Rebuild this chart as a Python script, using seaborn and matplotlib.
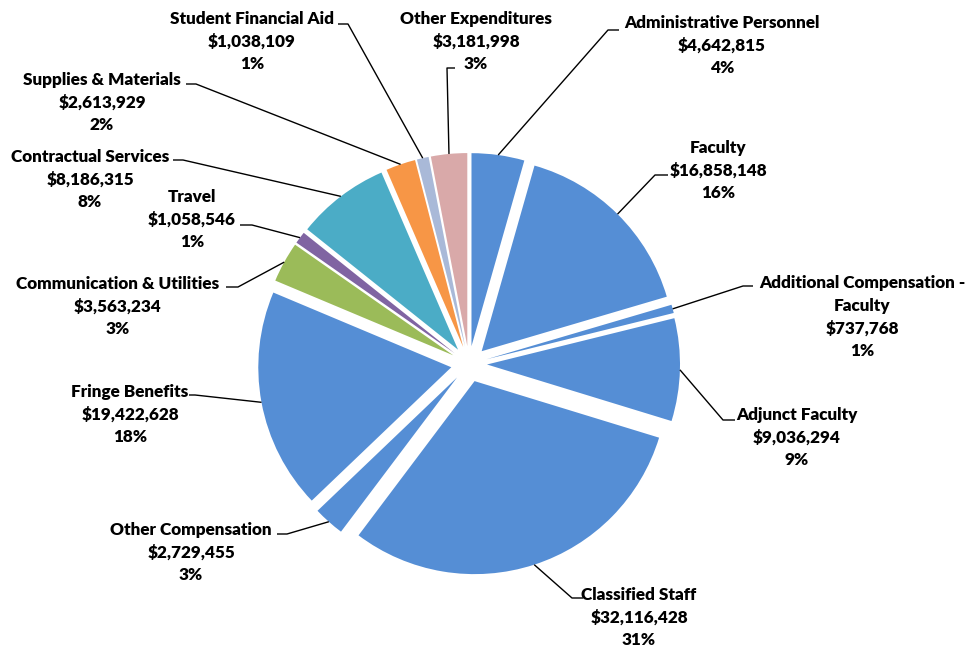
import numpy as np
import matplotlib
matplotlib.use("Agg")
import matplotlib.pyplot as plt
import seaborn as sns

categories = ["Administrative Personnel", "Faculty", "Additional Compensation -\nFaculty",
              "Adjunct Faculty", "Classified Staff", "Other Compensation", "Fringe Benefits",
              "Communication & Utilities", "Travel", "Contractual Services",
              "Supplies & Materials", "Student Financial Aid", "Other Expenditures"]
values = [4642815, 16858148, 737768, 9036294, 32116428, 2729455, 19422628,
          3563234, 1058546, 8186315, 2613929, 1038109, 3181998]
colors = ["#558ED5", "#558ED5", "#558ED5", "#558ED5", "#558ED5", "#558ED5", "#558ED5",
          "#9BBB59", "#8064A2", "#4BACC6", "#F79646", "#A9B9D8", "#D9A9A9"]

# label layout (image pixel coords): text center x, first-line y, knee point, segment end
label_xy = [(722, 22), (718, 147), (862, 282), (797, 414), (639, 594), (191, 529), (130, 391),
            (118, 283), (192, 196), (90, 156), (102, 79), (252, 18), (476, 18)]
knee_xy = [(608, 30), (655, 175), (743, 286), (723, 420), (572, 598), (287, 534), (195, 395),
           (238, 287), (252, 225), (183, 160), (196, 84), (348, 24), (447, 68)]
end_xy = [(619, 30), (668, 175), (753, 286), (735, 420), (583, 598), (277, 534), (189, 395),
          (226, 287), (240, 225), (173, 160), (186, 84), (338, 24), (455, 68)]

W, H = 968, 647
sns.set_theme(style="white")
plt.rcParams['font.family'] = ['Lato', 'DejaVu Sans']

fig = plt.figure(figsize=(W / 100, H / 100), dpi=100)
ax = fig.add_axes([0, 0, 1, 1])

R = 193
explode = [18] * len(values)   # pie explode offsets are in data units
wedges, _ = ax.pie(values, colors=colors, startangle=90, counterclock=False,
                   explode=explode, radius=R, center=(469, H - 364), frame=True,
                   wedgeprops=dict(linewidth=0))
ax.set_xlim(0, W)
ax.set_ylim(0, H)
ax.set_aspect('equal')
ax.axis('off')

total = sum(values)
for i, w in enumerate(wedges):
    ang = np.deg2rad((w.theta1 + w.theta2) / 2)
    cx, cy = w.center
    sx, sy = cx + w.r * np.cos(ang), cy + w.r * np.sin(ang)
    kx, ky = knee_xy[i]
    ex, ey = end_xy[i]
    ax.plot([sx, kx, ex], [sy, H - ky, H - ey], color="black", lw=1.0, solid_capstyle='butt')
    pct = round(values[i] / total * 100)
    txt = f"{categories[i]}\n${values[i]:,}\n{pct}%"
    tx, ty = label_xy[i]
    ax.text(tx, H - ty + 7, txt, ha='center', va='top', fontsize=12.3,
            fontweight='heavy', color='black', linespacing=1.5)

fig.savefig("out.png", dpi=100)
